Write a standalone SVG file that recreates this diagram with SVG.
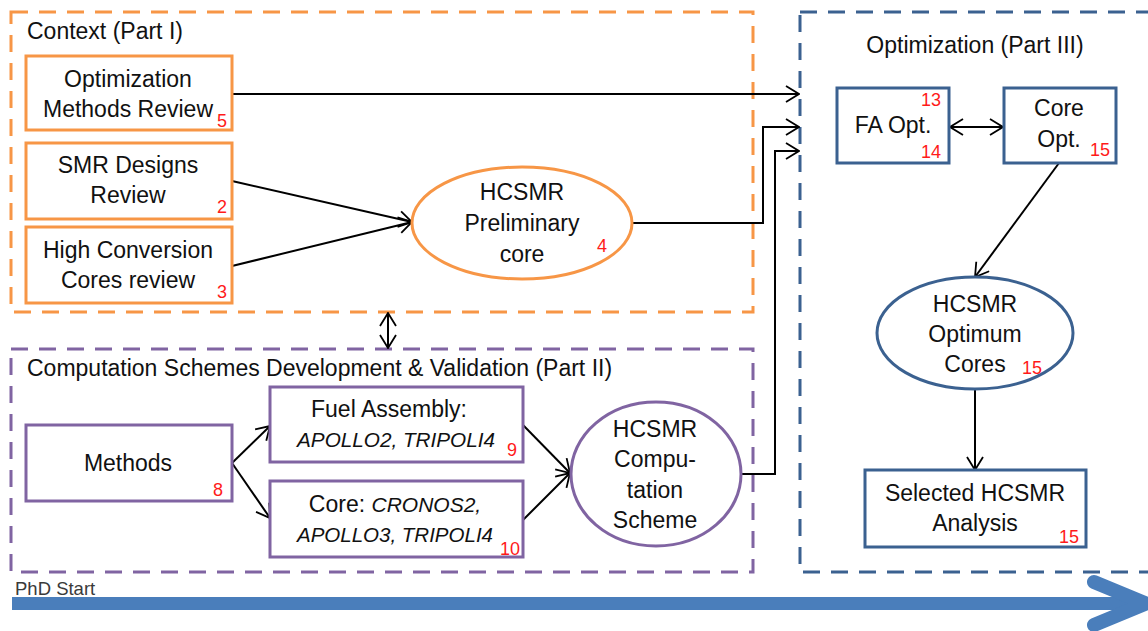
<svg xmlns="http://www.w3.org/2000/svg" width="1148" height="631" viewBox="0 0 1148 631">
  <defs>
    <marker id="open" viewBox="0 0 16 18" refX="15" refY="9" markerWidth="16" markerHeight="18" orient="auto-start-reverse" markerUnits="userSpaceOnUse">
      <path d="M2,1 L15,9 L2,17" fill="none" stroke="#000" stroke-width="1.8"/>
    </marker>
    <style>
      text { font-family: "Liberation Sans", Arial, sans-serif; fill: #111; }
      .lbl { font-size: 23px; text-anchor: middle; }
      .ttl { font-size: 23px; }
      .num { font-size: 18px; fill: #ff1a1a; }
      .it { font-style: italic; }
      .sm { font-size: 21px; }
      .frame { fill: none; stroke-width: 3; stroke-dasharray: 17 11; }
      .or { stroke: #f79646; }
      .pu { stroke: #8064a2; }
      .bl { stroke: #3b6190; }
      .node { fill: #fff; stroke-width: 3; }
      .link { fill: none; stroke: #000; stroke-width: 2; marker-end: url(#open); }
    </style>
  </defs>

  <rect width="1148" height="631" fill="#fff"/>

  <!-- part frames -->
  <g id="frames">
    <rect class="frame or" x="11" y="12" width="742" height="300"/>
    <rect class="frame pu" x="11" y="349" width="742" height="223"/>
    <rect class="frame bl" x="800" y="12" width="360" height="560"/>
    <text class="ttl" x="27" y="39">Context (Part I)</text>
    <text class="ttl" x="27" y="376">Computation Schemes Development &amp; Validation (Part II)</text>
    <text class="ttl" x="975" y="53" text-anchor="middle">Optimization (Part III)</text>
  </g>

  <!-- timeline -->
  <g id="timeline">
    <text x="15" y="595" style="font-size:18.5px;fill:#3a3a3a">PhD Start</text>
    <line x1="12" y1="603.5" x2="1140" y2="603.5" stroke="#4a7ebb" stroke-width="13"/>
    <polyline points="1094,582 1146,603.5 1094,625" fill="none" stroke="#4a7ebb" stroke-width="14" stroke-linecap="round" stroke-linejoin="miter"/>
  </g>

  <!-- connectors -->
  <g id="connectors">
    <line class="link" x1="232" y1="94" x2="799" y2="94"/>
    <line class="link" x1="232" y1="181" x2="412" y2="222"/>
    <line class="link" x1="232" y1="266" x2="412" y2="222"/>
    <polyline class="link" points="632,223 763,223 763,127 799,127"/>
    <polyline class="link" points="742,474 775,474 775,151 799,151"/>
    <line class="link" x1="388" y1="313" x2="388" y2="348" style="marker-start:url(#open)"/>
    <line class="link" x1="232" y1="463" x2="270" y2="426"/>
    <line class="link" x1="232" y1="463" x2="270" y2="518"/>
    <line class="link" x1="523" y1="425" x2="570" y2="473"/>
    <line class="link" x1="519" y1="524" x2="570" y2="473"/>
    <line class="link" x1="950" y1="127" x2="1003" y2="127" style="marker-start:url(#open)"/>
    <line class="link" x1="1059" y1="163" x2="975" y2="277"/>
    <line class="link" x1="975" y1="389" x2="975" y2="470"/>
  </g>

  <!-- Part I nodes -->
  <g id="opt-review">
    <rect class="node or" x="26" y="56" width="206" height="74"/>
    <text class="lbl" x="128" y="87">Optimization</text>
    <text class="lbl" x="128" y="117">Methods Review</text>
    <text class="num" x="217" y="127">5</text>
  </g>
  <g id="smr-review">
    <rect class="node or" x="26" y="143" width="206" height="76"/>
    <text class="lbl" x="128" y="173">SMR Designs</text>
    <text class="lbl" x="128" y="203">Review</text>
    <text class="num" x="217" y="213">2</text>
  </g>
  <g id="hc-review">
    <rect class="node or" x="26" y="227" width="206" height="76"/>
    <text class="lbl" x="128" y="258">High Conversion</text>
    <text class="lbl" x="128" y="288">Cores review</text>
    <text class="num" x="217" y="298">3</text>
  </g>
  <g id="prelim-core">
    <ellipse class="node or" cx="522" cy="223" rx="110" ry="56"/>
    <text class="lbl" x="522" y="200">HCSMR</text>
    <text class="lbl" x="522" y="231">Preliminary</text>
    <text class="lbl" x="522" y="262">core</text>
    <text class="num" x="597" y="252">4</text>
  </g>

  <!-- Part II nodes -->
  <g id="methods">
    <rect class="node pu" x="26" y="425" width="206" height="76"/>
    <text class="lbl" x="128" y="471">Methods</text>
    <text class="num" x="213" y="496">8</text>
  </g>
  <g id="fuel-assembly">
    <rect class="node pu" x="270" y="387" width="253" height="75"/>
    <text class="lbl" x="389" y="417">Fuel Assembly:</text>
    <text class="lbl it sm" x="396" y="447" textLength="198" lengthAdjust="spacingAndGlyphs">APOLLO2, TRIPOLI4</text>
    <text class="num" x="507" y="456">9</text>
  </g>
  <g id="core-codes">
    <rect class="node pu" x="270" y="481" width="253" height="76"/>
    <text class="lbl" x="395" y="512">Core: <tspan class="it sm">CRONOS2,</tspan></text>
    <text class="lbl it sm" x="395" y="542" textLength="196" lengthAdjust="spacingAndGlyphs">APOLLO3, TRIPOLI4</text>
    <text class="num" x="500" y="555">10</text>
  </g>
  <g id="computation-scheme">
    <ellipse class="node pu" cx="656" cy="474" rx="85" ry="72"/>
    <text class="lbl" x="655" y="437">HCSMR</text>
    <text class="lbl" x="655" y="467">Compu-</text>
    <text class="lbl" x="655" y="498">tation</text>
    <text class="lbl" x="655" y="528">Scheme</text>
  </g>

  <!-- Part III nodes -->
  <g id="fa-opt">
    <rect class="node bl" x="837" y="88" width="112" height="75"/>
    <text class="lbl" x="893" y="133">FA Opt.</text>
    <text class="num" x="941" y="106" text-anchor="end">13</text>
    <text class="num" x="941" y="158" text-anchor="end">14</text>
  </g>
  <g id="core-opt">
    <rect class="node bl" x="1004" y="88" width="112" height="75"/>
    <text class="lbl" x="1059" y="116">Core</text>
    <text class="lbl" x="1059" y="147">Opt.</text>
    <text class="num" x="1090" y="156">15</text>
  </g>
  <g id="optimum-cores">
    <ellipse class="node bl" cx="975" cy="333" rx="98" ry="56"/>
    <text class="lbl" x="975" y="312">HCSMR</text>
    <text class="lbl" x="975" y="342">Optimum</text>
    <text class="lbl" x="975" y="372">Cores</text>
    <text class="num" x="1022" y="374">15</text>
  </g>
  <g id="selected-analysis">
    <rect class="node bl" x="865" y="470" width="221" height="77"/>
    <text class="lbl" x="975" y="501">Selected HCSMR</text>
    <text class="lbl" x="975" y="531">Analysis</text>
    <text class="num" x="1059" y="543">15</text>
  </g>
</svg>
